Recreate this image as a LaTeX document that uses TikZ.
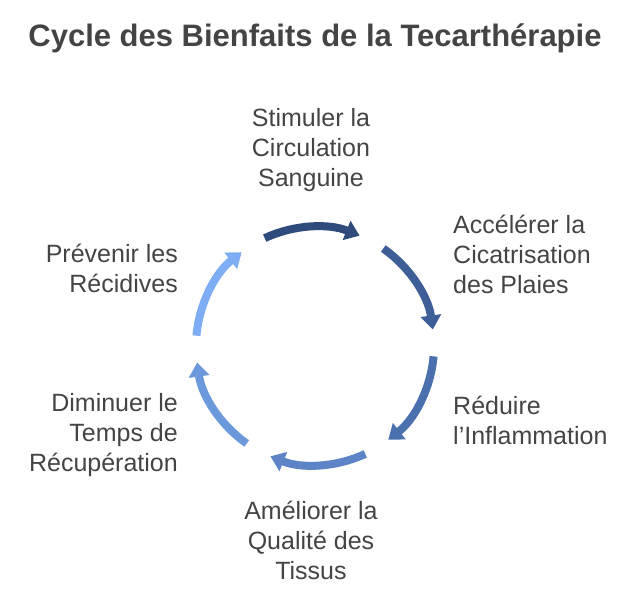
\documentclass[tikz,border=0pt]{standalone}
\usepackage{fontspec}
\setmainfont{Liberation Sans}
\usetikzlibrary{arrows.meta,calc}
\definecolor{txt}{HTML}{444444}
\definecolor{c1}{HTML}{2F4B7C}
\definecolor{c2}{HTML}{3D5E96}
\definecolor{c3}{HTML}{4B70AE}
\definecolor{c4}{HTML}{5C84C6}
\definecolor{c5}{HTML}{6C98DC}
\definecolor{c6}{HTML}{7EADF4}
\tikzset{
  arc/.style={line width=8pt,-{Triangle[length=14pt,width=20pt]}},
  lbl/.style={font=\fontsize{25}{30}\selectfont,text=txt,align=center,inner sep=0pt},
  lblL/.style={lbl,align=left,anchor=west},
  lblR/.style={lbl,align=right,anchor=east}
}
\begin{document}
\begin{tikzpicture}[x=1pt,y=1pt]
\useasboundingbox (0,0) rectangle (630,600);
\node[font=\bfseries\fontsize{31}{36}\selectfont,text=txt] (title) at (315,562) {Cycle des Bienfaits de la Tecarthérapie};
\coordinate (c) at (315,254);
\foreach \a/\col in {90/c1,30/c2,-30/c3,-90/c4,-150/c5,150/c6}{
  \draw[arc,\col] ($(c)+(\a+25:119)$) arc[start angle=\a+25,end angle=\a-22,radius=119];
}
\node[lbl] (s) at (311,450) {Stimuler la\\Circulation\\Sanguine};
\node[lblL] (a) at (453,346) {Accélérer la\\Cicatrisation\\des Plaies};
\node[lblL] (r) at (453,180) {Réduire\\l\char"0027Inflammation};
\node[lbl] (q) at (311,60) {Améliorer la\\Qualité des\\Tissus};
\node[lblR] (d) at (178,165) {Diminuer le\\Temps de\\Récupération};
\node[lblR] (p) at (178,332) {Prévenir les\\Récidives};
\end{tikzpicture}
\end{document}
